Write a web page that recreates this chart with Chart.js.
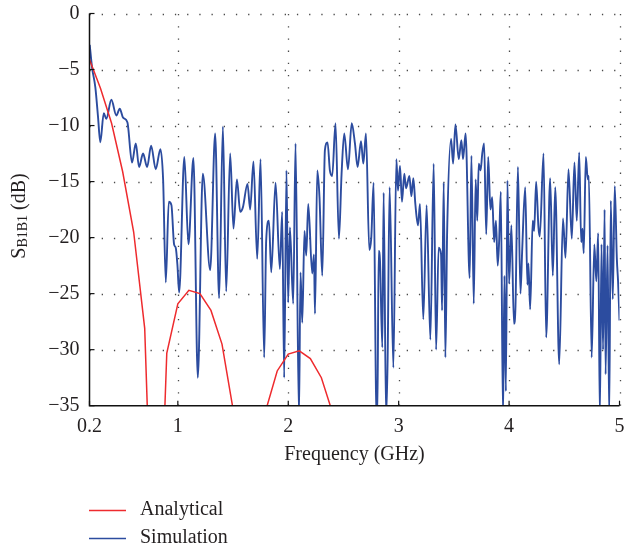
<!DOCTYPE html>
<html><head><meta charset="utf-8">
<script src="https://cdn.jsdelivr.net/npm/chart.js@4.4.1/dist/chart.umd.min.js"></script>
<style>html,body{margin:0;padding:0;background:#fff;} canvas{display:block;}</style>
</head><body>
<canvas id="c" width="624" height="550"></canvas>
<script>
// ---------- data ----------
const simFreq = [0.202,0.223,0.253,0.277,0.298,0.329,0.352,0.398,0.443,0.474,0.504,0.543,0.585,0.619,0.649,0.685,0.722,0.758,0.800,0.842,
0.867,0.891,0.918,0.942,0.966,0.981,0.996,1.012,1.059,1.096,1.141,1.181,1.226,1.293,1.338,1.374,1.408,1.438,1.474,1.504,
1.535,1.565,1.589,1.631,1.655,1.685,1.719,1.749,1.782,1.800,1.825,1.846,1.885,1.924,1.945,1.963,1.984,1.999,2.015,2.045,
2.066,2.097,2.111,2.127,2.147,2.163,2.181,2.217,2.233,2.242,2.263,2.283,2.308,2.332,2.356,2.377,2.398,2.428,2.459,2.483,
2.507,2.541,2.575,2.604,2.628,2.659,2.680,2.704,2.734,2.752,2.773,2.795,2.807,2.819,2.831,2.852,2.864,2.886,2.900,2.918,
2.952,2.979,2.994,3.012,3.030,3.051,3.067,3.097,3.115,3.133,3.151,3.175,3.193,3.223,3.253,3.287,3.317,3.339,3.362,3.384,
3.393,3.408,3.423,3.439,3.475,3.493,3.514,3.544,3.568,3.583,3.606,3.643,3.659,3.680,3.697,3.712,3.725,3.742,3.757,3.774,
3.793,3.811,3.831,3.847,3.865,3.881,3.897,3.910,3.925,3.945,3.958,3.971,3.985,4.000,4.021,4.044,4.058,4.080,4.103,4.118,
4.146,4.166,4.175,4.191,4.214,4.227,4.245,4.266,4.278,4.312,4.336,4.372,4.396,4.418,4.454,4.488,4.511,4.538,4.568,4.592,
4.613,4.635,4.653,4.665,4.676,4.695,4.713,4.722,4.748,4.772,4.790,4.807,4.822,4.837,4.851,4.865,4.874,4.892,4.907,4.921,
4.939,4.957,4.976,4.987,5.000];
const simDb = [-2.8,-4.8,-6.6,-9.2,-11.5,-8.9,-9.4,-7.7,-9.1,-8.5,-9.3,-9.7,-13.3,-11.6,-13.7,-12.5,-13.7,-11.8,-13.9,-12.1,
-14.9,-24.0,-16.8,-17.1,-20.6,-20.9,-22.4,-24.9,-12.8,-20.6,-12.9,-32.5,-14.3,-22.9,-10.7,-25.4,-10.1,-24.8,-12.5,-19.2,
-14.8,-17.7,-17.3,-15.2,-17.5,-13.2,-21.9,-13.0,-30.7,-20.3,-18.5,-23.1,-15.1,-22.8,-17.7,-32.5,-14.0,-25.8,-19.1,-25.9,
-11.6,-36,-23.1,-27.6,-19.4,-21.6,-17.0,-23.2,-21.5,-26.8,-14.0,-16.4,-23.4,-12.2,-11.5,-14.0,-14.5,-9.8,-20.1,-14.3,
-10.7,-13.9,-9.8,-11.6,-13.7,-11.4,-13.4,-10.7,-21.1,-20.0,-15.1,-34.0,-36,-21.2,-22.1,-29.8,-16.0,-36,-30.9,-15.5,
-31.6,-13.0,-15.8,-13.6,-16.8,-14.3,-15.6,-14.5,-16.3,-14.7,-17.0,-18.9,-17.0,-27.3,-17.1,-29.1,-13.4,-30.0,-20.9,-21.5,
-26.5,-15.1,-30.7,-19.5,-11.2,-13.4,-9.9,-13.0,-11.3,-13.0,-10.7,-23.6,-12.7,-25.9,-14.8,-18.5,-13.4,-14.0,-12.5,-11.6,
-19.7,-12.8,-17.5,-16.4,-20.4,-18.5,-22.5,-20.3,-15.9,-36,-23.4,-33.7,-14.9,-24.1,-18.9,-27.7,-26.1,-13.7,-25.0,-21.3,
-15.5,-24.2,-22.3,-26.4,-18.5,-19.4,-15.0,-19.1,-19.9,-12.5,-28.9,-14.7,-23.4,-15.5,-31.3,-18.3,-21.8,-13.9,-20.1,-13.3,
-18.5,-12.4,-20.4,-19.2,-21.4,-12.8,-14.8,-14.5,-30.7,-20.6,-23.9,-19.6,-36,-20.6,-30.0,-17.5,-32.2,-20.7,-36,-16.7,
-25.5,-15.4,-21.9,-23.9,-27.4];
const anaFreq = [0.2,0.3,0.4,0.5,0.6,0.7,0.8,0.9,1.0,1.1,1.2,1.3,1.4,1.5,1.6,1.7,1.8,1.9,2.0,2.1,2.2,2.3,2.4,2.5];
const anaDb = [-4.1,-6.7,-9.8,-14.1,-19.5,-28.1,-58,-30.3,-25.9,-24.7,-25.0,-26.5,-29.5,-35.3,-46,-46,-35.3,-31.9,-30.4,-30.1,-30.8,-32.5,-35.6,-48];
const xTickValues = [0.2, 1, 2, 3, 4, 5];
const yTickValues = [0, -5, -10, -15, -20, -25, -30, -35];
const seriesNames = ['Analytical', 'Simulation'];
const seriesColors = ['#ee2b2e', '#2c4c9f'];
const xTitle = 'Frequency (GHz)';
const yTitleParts = ['S', 'B1B1', ' (dB)'];

// ---------- chart ----------
const FONT = '"Liberation Serif", "Times New Roman", serif';
const TEXT = '#231f20';
const toPts = (xs, ys) => xs.map((x, i) => ({ x, y: ys[i] }));
const fmtY = v => (v < 0 ? '\u2212' + Math.abs(v) : String(v));

const framePlugin = {
  id: 'frame',
  beforeDatasetsDraw(chart) {
    const { ctx, chartArea: { left, right, top, bottom }, scales: { x, y } } = chart;
    ctx.save();
    ctx.strokeStyle = '#4a4a4a';
    ctx.lineWidth = 1.3;
    ctx.setLineDash([1.3, 10.9]);
    xTickValues.slice(1).forEach(v => {
      const px = Math.round(x.getPixelForValue(v)) + 0.5;
      ctx.beginPath(); ctx.moveTo(px, bottom); ctx.lineTo(px, top); ctx.stroke();
    });
    yTickValues.filter(v => v > -35).forEach(v => {
      const py = Math.round(y.getPixelForValue(v)) + 0.5;
      ctx.beginPath(); ctx.moveTo(left, py); ctx.lineTo(right, py); ctx.stroke();
    });
    ctx.restore();
  },
  afterDatasetsDraw(chart) {
    const { ctx, chartArea: { left, right, top, bottom }, scales: { x, y } } = chart;
    ctx.save();
    ctx.strokeStyle = '#111';
    ctx.lineWidth = 1.5;
    ctx.setLineDash([]);
    ctx.beginPath();
    ctx.moveTo(left, top); ctx.lineTo(left, bottom); ctx.lineTo(right, bottom);
    ctx.stroke();
    ctx.lineWidth = 1.2;
    yTickValues.forEach(v => {
      const py = y.getPixelForValue(v);
      ctx.beginPath(); ctx.moveTo(left, py); ctx.lineTo(left + 5, py); ctx.stroke();
    });
    xTickValues.forEach(v => {
      const px = x.getPixelForValue(v);
      ctx.beginPath(); ctx.moveTo(px, bottom); ctx.lineTo(px, bottom - 5); ctx.stroke();
    });
    ctx.restore();
  },
  afterDraw(chart) {
    const { ctx, chartArea: { left, right } } = chart;
    ctx.save();
    ctx.fillStyle = TEXT;
    ctx.font = '20px ' + FONT;
    ctx.textAlign = 'center';
    ctx.textBaseline = 'middle';
    ctx.fillText(xTitle, (left + right) / 2, 455);
    ctx.translate(25, 216);
    ctx.rotate(-Math.PI / 2);
    ctx.textAlign = 'left';
    ctx.textBaseline = 'alphabetic';
    const big = '20px ' + FONT, small = '14px ' + FONT;
    ctx.font = big; const w0 = ctx.measureText(yTitleParts[0]).width;
    ctx.font = small; const w1 = ctx.measureText(yTitleParts[1]).width;
    ctx.font = big; const w2 = ctx.measureText(yTitleParts[2]).width;
    let sx = -(w0 + w1 + w2) / 2;
    ctx.font = big; ctx.fillText(yTitleParts[0], sx, 0); sx += w0;
    ctx.font = small; ctx.fillText(yTitleParts[1], sx, 2); sx += w1;
    ctx.font = big; ctx.fillText(yTitleParts[2], sx, 0);
    ctx.setTransform(1, 0, 0, 1, 0, 0);
    const rows = [510, 538];
    ctx.font = '20px ' + FONT;
    ctx.textAlign = 'left';
    ctx.textBaseline = 'middle';
    chart.data.datasets.forEach((ds, i) => {
      const yy = rows[i];
      ctx.strokeStyle = ds.borderColor;
      ctx.lineWidth = 1.5;
      ctx.beginPath(); ctx.moveTo(89, yy + 0.5); ctx.lineTo(126, yy + 0.5); ctx.stroke();
      ctx.fillStyle = TEXT;
      ctx.fillText(ds.label, 140, yy);
    });
    ctx.restore();
  }
};

new Chart(document.getElementById('c'), {
  type: 'line',
  data: {
    datasets: [
      { label: seriesNames[0], data: toPts(anaFreq, anaDb), borderColor: seriesColors[0],
        borderWidth: 1.5, pointRadius: 0, tension: 0, clip: 0 },
      { label: seriesNames[1], data: toPts(simFreq, simDb), borderColor: seriesColors[1],
        borderWidth: 1.9, pointRadius: 0, cubicInterpolationMode: 'monotone', clip: 0 }
    ]
  },
  options: {
    responsive: false,
    animation: false,
    devicePixelRatio: 1,
    layout: { padding: { top: 13.5, right: 4.5, bottom: 0, left: 0 } },
    plugins: { legend: { display: false }, tooltip: { enabled: false } },
    scales: {
      x: {
        type: 'linear', min: 0.2, max: 5,
        afterBuildTicks: s => { s.ticks = xTickValues.map(v => ({ value: v })); },
        afterFit: s => { s.height = 144.3; s.paddingLeft = 0; s.paddingRight = 0; },
        grid: { display: false, drawTicks: false },
        border: { display: false },
        ticks: { autoSkip: false, maxRotation: 0, padding: 9, color: TEXT,
          font: { family: FONT, size: 20 }, callback: v => String(v) }
      },
      y: {
        type: 'linear', min: -35, max: 0,
        afterBuildTicks: s => { s.ticks = yTickValues.map(v => ({ value: v })); },
        afterFit: s => { s.width = 89.5; s.paddingTop = 0; s.paddingBottom = 0; },
        grid: { display: false, drawTicks: false },
        border: { display: false },
        ticks: { padding: 10, color: TEXT, font: { family: FONT, size: 20 }, callback: v => fmtY(v) }
      }
    }
  },
  plugins: [framePlugin]
});
</script>
</body></html>
